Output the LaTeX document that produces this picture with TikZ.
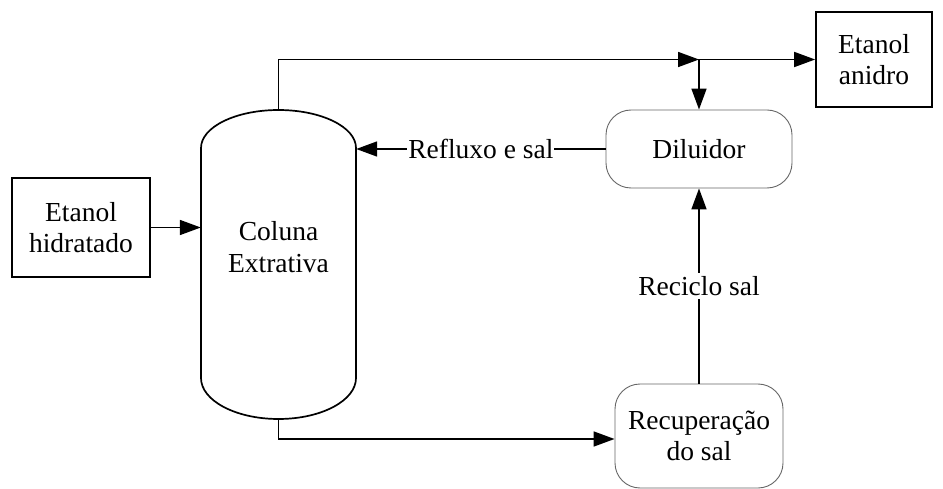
\documentclass[tikz,border=0pt]{standalone}
\usepackage{fontspec}
\setmainfont{Liberation Serif}
\usetikzlibrary{arrows.meta,calc}
\begin{document}
\begin{tikzpicture}[x=1bp,y=-1bp,
  every node/.style={font=\fontsize{27.5bp}{31.5bp}\selectfont, align=center, inner sep=0pt},
  flow/.style={line width=1.7bp, -{Triangle[length=21bp,width=15bp]}},
  plain/.style={line width=1.7bp},
  sqbox/.style={draw, line width=1.7bp},
  unit/.style={draw=black!60, line width=0.9bp, rounded corners=25bp},
  lbl/.style={fill=white, inner xsep=1bp}
]
\useasboundingbox (0,0) rectangle (943,489);

% feed and product boxes
\node[sqbox, minimum width=138bp, minimum height=99bp] (hidr) at (81,227.5) {Etanol\\hidratado};
\node[sqbox, minimum width=116bp, minimum height=95bp] (anid) at (874,59.5) {Etanol\\anidro};

% extractive column (vessel outline drawn around an empty node)
\node[minimum width=155bp, minimum height=309bp] (col) at (278.5,264.5) {};
\node at (278.5,247) {Coluna\\Extrativa};
\draw[plain] (201,148) .. controls (201,127) and (235.7,110) .. (278.5,110)
  .. controls (321.3,110) and (356,127) .. (356,148) -- (356,378)
  .. controls (356,400.6) and (321.3,419) .. (278.5,419)
  .. controls (235.7,419) and (201,400.6) .. (201,378) -- cycle;

% process units
\node[unit, minimum width=186bp, minimum height=78bp] (dil) at (699,149) {Diluidor};
\node[unit, minimum width=168bp, minimum height=104bp] (rec) at (699,436) {Recuperação\\do sal};

% streams
\coordinate (J) at (dil.north |- anid.west);
\draw[flow] (hidr.east) -- (col.west |- hidr.east);
\draw[flow] (col.north) |- (J);
\draw[flow] (J) -- (anid.west);
\draw[flow] (J) -- (dil.north);
\draw[flow] (dil.west) -- node[lbl] {Refluxo e sal} (col.east |- dil.west);
\draw[flow] (rec.north) -- node[lbl, inner ysep=3bp] {Reciclo sal} (dil.south);
\draw[flow] (col.south) |- ($(rec.west)+(0,3)$);
\end{tikzpicture}
\end{document}
